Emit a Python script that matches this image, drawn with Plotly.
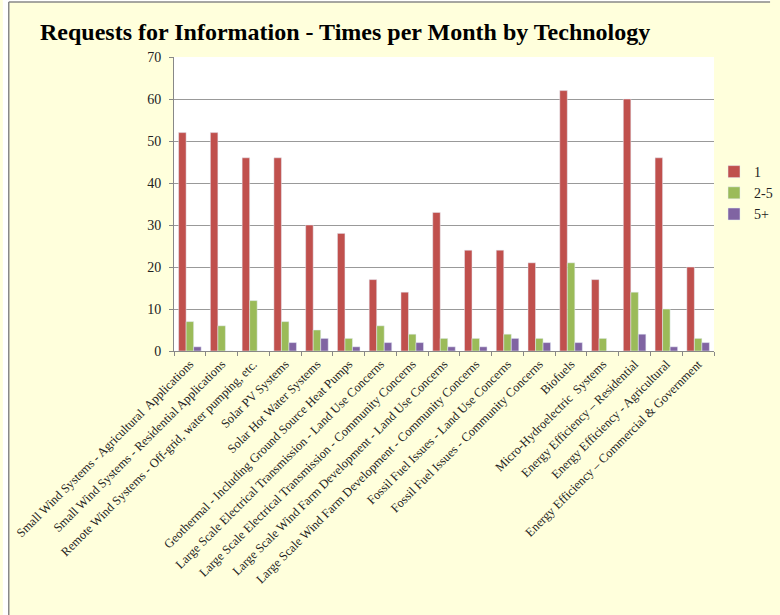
import plotly.graph_objects as go

categories = [
    "Small Wind Systems - Agricultural  Applications",
    "Small Wind Systems - Residential Applications",
    "Remote Wind Systems - Off-grid, water pumping, etc.",
    "Solar PV Systems",
    "Solar Hot Water Systems",
    "Geothermal - Including Ground Source Heat Pumps",
    "Large Scale Electrical Transmission - Land Use Concerns",
    "Large Scale Electrical Transmission - Community Concerns",
    "Large Scale Wind Farm Development - Land Use Concerns",
    "Large Scale Wind Farm Development - Community Concerns",
    "Fossil Fuel Issues - Land Use Concerns",
    "Fossil Fuel Issues - Community Concerns",
    "Biofuels",
    "Micro-Hydroelectric  Systems",
    "Energy Efficiency \u2013 Residential",
    "Energy Efficiency - Agricultural",
    "Energy Efficiency \u2013 Commercial & Government",
]
once = [52, 52, 46, 46, 30, 28, 17, 14, 33, 24, 24, 21, 62, 17, 60, 46, 20]
two_to_five = [7, 6, 12, 7, 5, 3, 6, 4, 3, 3, 4, 3, 21, 3, 14, 10, 3]
five_plus = [1, 0, 0, 2, 3, 1, 2, 2, 1, 1, 3, 2, 2, 0, 4, 1, 2]

serif = "Liberation Serif, Times New Roman, serif"

W, H = 780, 615
L, R, T, B = 174, 723, 57, 351  # plot area in pixels
def px(x):
    return (x - L) / (R - L)
def py(y):
    return (B - y) / (B - T)

fig = go.Figure()
fig.add_trace(go.Bar(x=categories, y=once, name="1", marker_color="#C0504D"))
fig.add_trace(go.Bar(x=categories, y=two_to_five, name="2-5", marker_color="#9BBB59"))
fig.add_trace(go.Bar(x=categories, y=five_plus, name="5+", marker_color="#8064A2"))

fig.update_layout(
    width=W, height=H,
    barmode="group", bargap=0.29, bargroupgap=0,
    paper_bgcolor="#FFFFDC", plot_bgcolor="white",
    margin=dict(l=L, r=W - R, t=T, b=H - B),
    font=dict(family=serif, size=12, color="#222"),
    title=dict(text="<b>Requests for Information - Times per Month by Technology</b>",
               x=40 / W, xanchor="left", y=1 - 32 / H, yanchor="middle",
               font=dict(family=serif, size=24, color="black")),
    legend=dict(xref="container", yref="container", x=714 / W, xanchor="left",
                y=1 - 193 / H, yanchor="middle",
                font=dict(family=serif, size=14), itemwidth=30,
                bgcolor="rgba(0,0,0,0)"),
    showlegend=True,
)
fig.update_xaxes(tickangle=-45, tickson="boundaries", ticks="outside", ticklen=4,
                 tickcolor="#888", showline=True, linecolor="#888", automargin=False,
                 showgrid=False, tickfont=dict(size=12.5))
fig.update_yaxes(range=[0, 70], dtick=10, ticks="outside", ticklen=4, tickcolor="#888",
                 showline=True, linecolor="#888", gridcolor="#999", automargin=False,
                 ticklabelstandoff=5, tickfont=dict(size=14))

# outer chart frame: white outside, grey border at left and top
fig.add_shape(type="rect", xref="paper", yref="paper", layer="below",
              x0=px(0), x1=px(6), y0=py(H), y1=py(0),
              fillcolor="white", line_width=0)
fig.add_shape(type="rect", xref="paper", yref="paper", layer="below",
              x0=px(0), x1=px(W), y0=py(2), y1=py(0),
              fillcolor="white", line_width=0)
fig.add_shape(type="line", xref="paper", yref="paper",
              x0=px(6), x1=px(6), y0=py(H), y1=py(2),
              line=dict(color="#888", width=1.5))
fig.add_shape(type="line", xref="paper", yref="paper",
              x0=px(6), x1=px(W), y0=py(2), y1=py(2),
              line=dict(color="#888", width=1.5))

fig.write_html("out.html", config={"displayModeBar": False},
               post_script="document.body.style.margin='0';document.body.style.overflow='hidden';")
